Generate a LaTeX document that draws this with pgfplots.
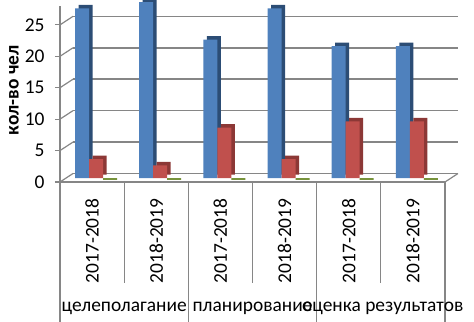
\documentclass[border=0pt]{standalone}
\usepackage{pgfplots}
\pgfplotsset{compat=1.18}
\usepackage{pgfplotstable}
\usepackage{fontspec}
\setmainfont{Carlito}
\definecolor{cblue}{HTML}{4F81BD}
\definecolor{cblued}{HTML}{2C4D75}
\definecolor{cred}{HTML}{C0504D}
\definecolor{credd}{HTML}{8C3836}
\definecolor{cgreen}{HTML}{9BBB59}
\definecolor{cgreend}{HTML}{77933C}
\definecolor{axgray}{HTML}{868686}
\pgfplotstableread{
x blue red green
0 27 3 0
1 28 2 0
2 22 8 0
3 27 3 0
4 21 9 0
5 21 9 0
}\datatable
\begin{document}
\begin{tikzpicture}[font=\fontsize{19.5}{21}\selectfont]
\useasboundingbox (-60bp,-140bp) rectangle (414bp,182bp);
\begin{axis}[
  at={(0,0)}, anchor=south west,
  scale only axis, width=385bp, height=176bp,
  xmin=-0.5, xmax=5.5, ymin=0, ymax=28,
  clip=false,
  axis x line*=bottom, axis y line*=left,
  axis line style={axgray, line width=1.2bp},
  xtick={0,...,5},
  xticklabels={2017-2018,2018-2019,2017-2018,2018-2019,2017-2018,2018-2019},
  xtick style={draw=none},
  xticklabel style={rotate=90, anchor=east},
  xticklabel shift=8bp,
  ytick={0,5,...,25},
  ytick style={axgray, line width=1.2bp},
  tick align=outside, major tick length=5bp,
  yticklabel style={xshift=-7bp},
  /pgf/number format/assume math mode=true,
  ymajorgrids,
  major grid style={draw=axgray, line width=1.5bp, xshift=13bp, yshift=8.5bp},
  ybar, bar width=14bp,
]
\addplot[fill=cblue, draw=none, bar shift=-10bp, yshift=4bp,
  preaction={fill=cblued, transform canvas={shift={(3.5bp,3.5bp)}}}]
  table[x=x, y=blue] {\datatable};
\addplot[fill=cred, draw=none, bar shift=4bp, yshift=4bp,
  preaction={fill=credd, transform canvas={shift={(3.5bp,3.5bp)}}}]
  table[x=x, y=red] {\datatable};
\addplot[fill=cgreen, draw=cgreend, line width=2.5bp, bar shift=18bp, yshift=3bp]
  table[x=x, y=green] {\datatable};
% floor and wall edges
\draw[axgray, line width=1.2bp] (axis cs:5.5,0) -- ++(13bp,8.5bp);
\draw[axgray, line width=1.2bp] (axis cs:-0.5,0) -- ++(13bp,8.5bp);
\draw[axgray, line width=1.2bp] (axis cs:-0.5,5) -- ++(13bp,8.5bp);
\draw[axgray, line width=1.2bp] (axis cs:-0.5,10) -- ++(13bp,8.5bp);
\draw[axgray, line width=1.2bp] (axis cs:-0.5,15) -- ++(13bp,8.5bp);
\draw[axgray, line width=1.2bp] (axis cs:-0.5,20) -- ++(13bp,8.5bp);
\draw[axgray, line width=1.2bp] (axis cs:-0.5,25) -- ++(13bp,8.5bp);
% category separators
\draw[axgray, line width=1.2bp] (axis cs:-0.5,0) -- ++(0bp,-140bp);
\draw[axgray, line width=1.2bp] (axis cs:1.5,0) -- ++(0bp,-140bp);
\draw[axgray, line width=1.2bp] (axis cs:3.5,0) -- ++(0bp,-140bp);
\draw[axgray, line width=1.2bp] (axis cs:5.5,0) -- ++(0bp,-140bp);
\draw[axgray, line width=1.2bp] (axis cs:0.5,0) -- ++(0bp,-101bp);
\draw[axgray, line width=1.2bp] (axis cs:2.5,0) -- ++(0bp,-101bp);
\draw[axgray, line width=1.2bp] (axis cs:4.5,0) -- ++(0bp,-101bp);
% group labels
\node at ([yshift=-126bp]axis cs:0.5,0) {целеполагание};
\node at ([yshift=-126bp]axis cs:2.5,0) {планирование};
\node at ([yshift=-126bp]axis cs:4.53,0) {оценка результатов};
\node[rotate=90, font=\fontsize{19.5}{21}\selectfont\bfseries] at ([xshift=-46bp]rel axis cs:0,0.52) {кол-во чел};
\end{axis}
\end{tikzpicture}
\end{document}
